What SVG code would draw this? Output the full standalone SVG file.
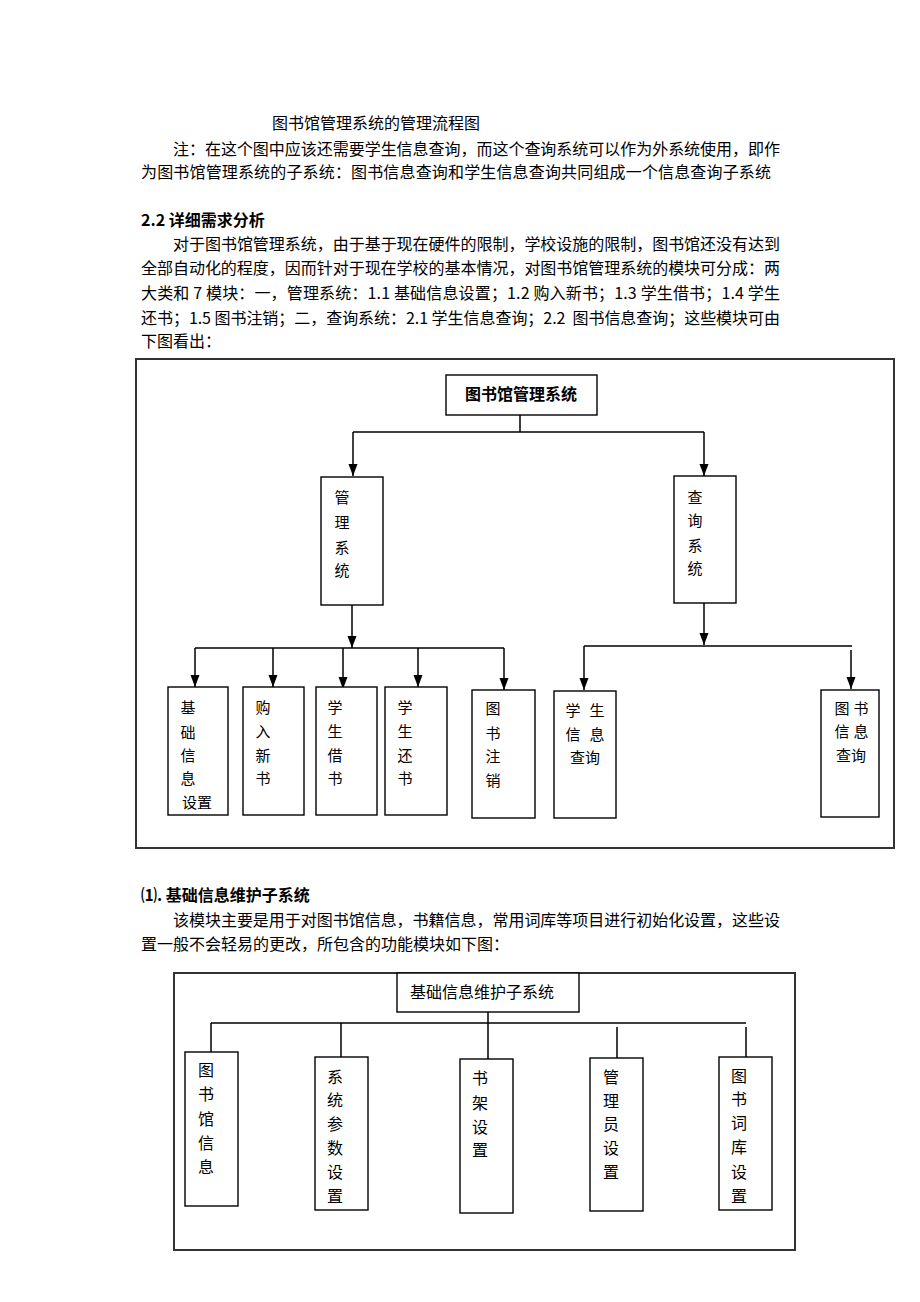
<svg xmlns="http://www.w3.org/2000/svg" width="920" height="1302" viewBox="0 0 920 1302">
<style>
text{font-family:"Noto Sans CJK SC","Liberation Sans",sans-serif;fill:#000}
.p{font-size:16px}
.b{font-size:16px;font-weight:bold}
.n{font-size:15px;text-anchor:middle}
.m{font-size:16px;text-anchor:middle}
.frame{fill:none;stroke:#333;stroke-width:2}
.box{fill:#fff;stroke:#000;stroke-width:1.4}
.ln{fill:none;stroke:#000;stroke-width:1.5}
</style>
<defs>
<marker id="ah" markerUnits="userSpaceOnUse" markerWidth="13" markerHeight="10" refX="12" refY="4.5" orient="auto">
<path d="M0,0 L12,4.5 L0,9 z" fill="#000"/>
</marker>
</defs>
<rect width="920" height="1302" fill="#fff"/>
<g id="text">
<text class="p" x="272" y="129">图书馆管理系统的管理流程图</text>
<text class="p" x="173" y="155" textLength="607" lengthAdjust="spacing">注：在这个图中应该还需要学生信息查询，而这个查询系统可以作为外系统使用，即作</text>
<text class="p" x="141" y="178" textLength="630" lengthAdjust="spacing">为图书馆管理系统的子系统：图书信息查询和学生信息查询共同组成一个信息查询子系统</text>
<text class="b" x="141" y="226">2.2 详细需求分析</text>
<text class="p" x="173" y="250" textLength="607" lengthAdjust="spacing">对于图书馆管理系统，由于基于现在硬件的限制，学校设施的限制，图书馆还没有达到</text>
<text class="p" x="141" y="274" textLength="639" lengthAdjust="spacing">全部自动化的程度，因而针对于现在学校的基本情况，对图书馆管理系统的模块可分成：两</text>
<text class="p" x="141" y="299" textLength="639" lengthAdjust="spacing">大类和 7 模块：一，管理系统：1.1 基础信息设置；1.2 购入新书；1.3 学生借书；1.4 学生</text>
<text class="p" x="141" y="324" textLength="639" lengthAdjust="spacing" xml:space="preserve">还书；1.5 图书注销；二，查询系统：2.1 学生信息查询；2.2  图书信息查询；这些模块可由</text>
<text class="p" x="141" y="347">下图看出：</text>
<text class="b" x="141" y="901">⑴. 基础信息维护子系统</text>
<text class="p" x="173" y="926" textLength="607" lengthAdjust="spacing">该模块主要是用于对图书馆信息，书籍信息，常用词库等项目进行初始化设置，这些设</text>
<text class="p" x="141" y="950">置一般不会轻易的更改，所包含的功能模块如下图：</text>
</g>
<rect class="frame" x="136" y="359" width="758" height="489"/>
<rect class="frame" x="174" y="973" width="621" height="277"/>
<g id="connectors">
<path class="ln" d="M520,415 V432 M353,432 H704 M195,648 H504 M584,646 H852 M488,1012 V1059 M211,1023 H746 M211,1023 V1052 M341,1023 V1057 M617,1027 V1058 M746,1027 V1057"/>
<path class="ln" d="M353,432 V476" marker-end="url(#ah)"/>
<path class="ln" d="M704,432 V476" marker-end="url(#ah)"/>
<path class="ln" d="M352,605 V648" marker-end="url(#ah)"/>
<path class="ln" d="M195,648 V687" marker-end="url(#ah)"/>
<path class="ln" d="M273,648 V687" marker-end="url(#ah)"/>
<path class="ln" d="M343,648 V689" marker-end="url(#ah)"/>
<path class="ln" d="M418,648 V687" marker-end="url(#ah)"/>
<path class="ln" d="M504,648 V690" marker-end="url(#ah)"/>
<path class="ln" d="M704,603 V645" marker-end="url(#ah)"/>
<path class="ln" d="M584,646 V690" marker-end="url(#ah)"/>
<path class="ln" d="M851,650 V689" marker-end="url(#ah)"/>
</g>
<g id="root1">
<rect class="box" x="446" y="375" width="151" height="40"/>
<text class="b" x="521" y="400" text-anchor="middle">图书馆管理系统</text>
</g>
<g id="mgmt">
<rect class="box" x="321" y="477" width="62" height="128"/>
<text class="n" x="342" y="503">管</text><text class="n" x="342" y="528">理</text><text class="n" x="342" y="553">系</text><text class="n" x="342" y="576">统</text>
</g>
<g id="query">
<rect class="box" x="674" y="476" width="62" height="127"/>
<text class="n" x="695" y="503">查</text><text class="n" x="695" y="526">询</text><text class="n" x="695" y="551">系</text><text class="n" x="695" y="574">统</text>
</g>
<g id="basic">
<rect class="box" x="168" y="687" width="60" height="128"/>
<text class="n" x="188" y="713">基</text><text class="n" x="188" y="738">础</text><text class="n" x="188" y="761">信</text><text class="n" x="188" y="784">息</text><text class="n" x="197" y="808">设置</text>
</g>
<g id="buy">
<rect class="box" x="243" y="687" width="61" height="128"/>
<text class="n" x="263" y="713">购</text><text class="n" x="263" y="737">入</text><text class="n" x="263" y="761">新</text><text class="n" x="263" y="784">书</text>
</g>
<g id="borrow">
<rect class="box" x="316" y="687" width="61" height="128"/>
<text class="n" x="335" y="713">学</text><text class="n" x="335" y="737">生</text><text class="n" x="335" y="761">借</text><text class="n" x="335" y="784">书</text>
</g>
<g id="return">
<rect class="box" x="385" y="687" width="62" height="128"/>
<text class="n" x="405" y="713">学</text><text class="n" x="405" y="737">生</text><text class="n" x="405" y="761">还</text><text class="n" x="405" y="784">书</text>
</g>
<g id="cancel">
<rect class="box" x="472" y="690" width="63" height="128"/>
<text class="n" x="493" y="714">图</text><text class="n" x="493" y="739">书</text><text class="n" x="493" y="762">注</text><text class="n" x="493" y="786">销</text>
</g>
<g id="stuquery">
<rect class="box" x="554" y="691" width="62" height="127"/>
<text class="n" x="573" y="716">学</text><text class="n" x="597" y="716">生</text>
<text class="n" x="573" y="740">信</text><text class="n" x="597" y="740">息</text>
<text class="n" x="585" y="763">查询</text>
</g>
<g id="bookquery">
<rect class="box" x="821" y="690" width="58" height="127"/>
<text class="n" x="842" y="714">图</text><text class="n" x="861" y="714">书</text>
<text class="n" x="842" y="737">信</text><text class="n" x="861" y="737">息</text>
<text class="n" x="851" y="761">查询</text>
</g>
<g id="root2">
<rect class="box" x="397" y="973" width="182" height="39"/>
<text class="p" x="482" y="998" text-anchor="middle">基础信息维护子系统</text>
</g>
<g id="libinfo">
<rect class="box" x="185" y="1052" width="53" height="154"/>
<text class="m" x="206" y="1076">图</text><text class="m" x="206" y="1100">书</text><text class="m" x="206" y="1125">馆</text><text class="m" x="206" y="1149">信</text><text class="m" x="206" y="1173">息</text>
</g>
<g id="sysparam">
<rect class="box" x="315" y="1057" width="53" height="153"/>
<text class="m" x="335" y="1083">系</text><text class="m" x="335" y="1106">统</text><text class="m" x="335" y="1130">参</text><text class="m" x="335" y="1154">数</text><text class="m" x="335" y="1178">设</text><text class="m" x="335" y="1202">置</text>
</g>
<g id="shelf">
<rect class="box" x="460" y="1059" width="53" height="154"/>
<text class="m" x="480" y="1084">书</text><text class="m" x="480" y="1109">架</text><text class="m" x="480" y="1133">设</text><text class="m" x="480" y="1156">置</text>
</g>
<g id="admin">
<rect class="box" x="590" y="1058" width="53" height="153"/>
<text class="m" x="611" y="1083">管</text><text class="m" x="611" y="1107">理</text><text class="m" x="611" y="1130">员</text><text class="m" x="611" y="1154">设</text><text class="m" x="611" y="1178">置</text>
</g>
<g id="lexicon">
<rect class="box" x="719" y="1057" width="53" height="153"/>
<text class="m" x="739" y="1082">图</text><text class="m" x="739" y="1105">书</text><text class="m" x="739" y="1129">词</text><text class="m" x="739" y="1153">库</text><text class="m" x="739" y="1178">设</text><text class="m" x="739" y="1202">置</text>
</g>
</svg>
